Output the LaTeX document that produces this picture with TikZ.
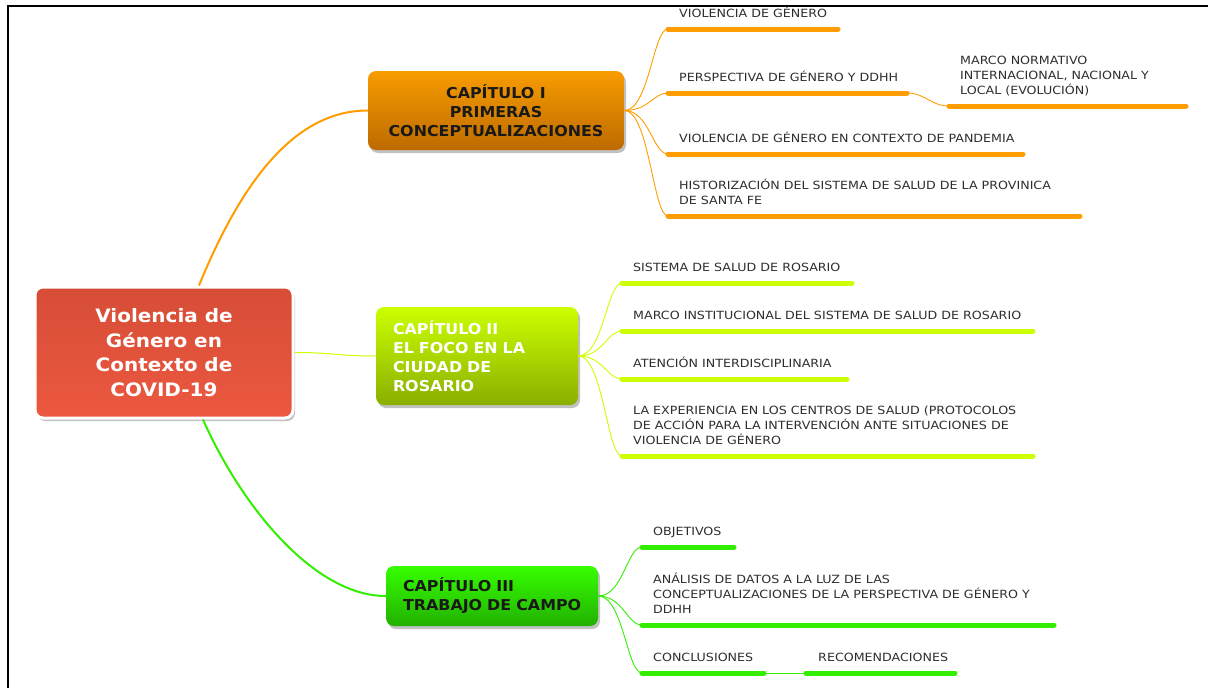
\documentclass[tikz,border=0pt]{standalone}
\usepackage{fontspec}
\setmainfont{DejaVu Sans}
\usetikzlibrary{shadows}
\definecolor{orangeL}{HTML}{FF9C00}
\definecolor{limeL}{HTML}{CCFF00}
\definecolor{greenL}{HTML}{33EE00}
\definecolor{leaftext}{HTML}{2E2E2E}
\definecolor{rootA}{HTML}{D64D36}
\definecolor{rootB}{HTML}{EC5840}
\definecolor{c1A}{HTML}{F89C00}
\definecolor{c1B}{HTML}{BC6A00}
\definecolor{c2A}{HTML}{CCFF00}
\definecolor{c2B}{HTML}{8AAF00}
\definecolor{c3A}{HTML}{36FF00}
\definecolor{c3B}{HTML}{22B000}
\tikzset{
  mshadow/.style={drop shadow={shadow xshift=2pt,shadow yshift=-3pt,opacity=0.35,fill=black!70}},
  chap/.style={rounded corners=8pt, inner sep=0pt, mshadow,
    font=\bfseries\fontsize{15}{19}\selectfont\addfontfeature{FakeStretch=1.06}},
  leaf/.style={anchor=south west, inner sep=0pt, text depth=0pt, align=left,
    font=\fontsize{11.3}{15}\selectfont\addfontfeature{FakeStretch=1.12}, text=leaftext},
  uline/.style={line width=5pt, line cap=round},
  branch/.style={line width=0.9pt},
  mainbranch/.style={line width=2pt},
}
\begin{document}
\begin{tikzpicture}[x=1pt,y=-1pt]
\useasboundingbox (0,0) rectangle (1208,688);
% frame
\draw[line width=2pt] (8,688) -- (8,6) -- (1208,6);

% root
\node[rounded corners=8pt, draw=white, line width=3pt, top color=rootA, bottom color=rootB,
  mshadow, minimum width=258pt, minimum height=131pt, inner sep=0pt, align=center,
  text=white, font=\bfseries\fontsize{18.5}{24.5}\selectfont\addfontfeature{FakeStretch=1.08}] (root) at (164,352.5)
  {Violencia de\\Género en\\Contexto de\\COVID-19};

% chapters
\node[chap, top color=c1A, bottom color=c1B, minimum width=256pt, minimum height=79pt,
  align=center, text=black!90] (c1) at (496,110.5)
  {CAPÍTULO I\\PRIMERAS\\CONCEPTUALIZACIONES};
\node[chap, top color=c2A, bottom color=c2B, minimum width=202pt, minimum height=98pt,
  text width=168pt, align=left, text=white] (c2) at (477,356)
  {CAPÍTULO~II\\EL~FOCO~EN~LA\\CIUDAD~DE\\ROSARIO};
\node[chap, top color=c3A, bottom color=c3B, minimum width=212pt, minimum height=60pt,
  text width=178pt, align=left, text=black!90] (c3) at (492,596)
  {CAPÍTULO~III\\TRABAJO~DE~CAMPO};

% main branches
\draw[mainbranch, orangeL] ([xshift=35pt]root.north) .. controls +(45,-110) and +(-70,0) .. (c1.west);
\draw[line width=1pt, limeL] (root.east) .. controls +(40,0) and +(-40,0) .. (c2.west);
\draw[mainbranch, greenL] ([xshift=39pt]root.south) .. controls +(40,90) and +(-70,0) .. (c3.west);

% ---- Chapter I leaves
\coordinate (a1s) at (668,29);  \coordinate (a1e) at (838,29);
\coordinate (a2s) at (668,93);  \coordinate (a2e) at (907,93);
\coordinate (a3s) at (668,154); \coordinate (a3e) at (1023,154);
\coordinate (a4s) at (668,216); \coordinate (a4e) at (1080,216);
\coordinate (a5s) at (949,106); \coordinate (a5e) at (1186,106);
\foreach \i in {1,...,4}{
  \draw[branch, orangeL] (c1.east) .. controls +(25,0) and +(-15,0) .. (a\i s);
}
\draw[branch, orangeL] (a2e) .. controls +(18,0) and +(-18,0) .. (a5s);
\foreach \i in {1,...,5}{ \draw[uline, orangeL] (a\i s) -- (a\i e); }
\node[leaf] (ta1) at ([shift={(11pt,11pt)}]a1s) {VIOLENCIA DE GÉNERO};
\node[leaf] (ta2) at ([shift={(11pt,11pt)}]a2s) {PERSPECTIVA DE GÉNERO Y DDHH};
\node[leaf] (ta3) at ([shift={(11pt,11pt)}]a3s) {VIOLENCIA DE GÉNERO EN CONTEXTO DE PANDEMIA};
\node[leaf] (ta4) at ([shift={(11pt,11pt)}]a4s) {HISTORIZACIÓN DEL SISTEMA DE SALUD DE LA PROVINICA\\DE SANTA FE};
\node[leaf] (ta5) at ([shift={(11pt,11pt)}]a5s) {MARCO NORMATIVO\\INTERNACIONAL, NACIONAL Y\\LOCAL (EVOLUCIÓN)};

% ---- Chapter II leaves
\coordinate (b1s) at (622,283); \coordinate (b1e) at (852,283);
\coordinate (b2s) at (622,331); \coordinate (b2e) at (1033,331);
\coordinate (b3s) at (622,379); \coordinate (b3e) at (847,379);
\coordinate (b4s) at (622,456); \coordinate (b4e) at (1033,456);
\foreach \i in {1,...,4}{
  \draw[branch, limeL] (c2.east) .. controls +(25,0) and +(-15,0) .. (b\i s);
  \draw[uline, limeL] (b\i s) -- (b\i e);
}
\node[leaf] (tb1) at ([shift={(11pt,11pt)}]b1s) {SISTEMA DE SALUD DE ROSARIO};
\node[leaf] (tb2) at ([shift={(11pt,11pt)}]b2s) {MARCO INSTITUCIONAL DEL SISTEMA DE SALUD DE ROSARIO};
\node[leaf] (tb3) at ([shift={(11pt,11pt)}]b3s) {ATENCIÓN INTERDISCIPLINARIA};
\node[leaf] (tb4) at ([shift={(11pt,11pt)}]b4s) {LA EXPERIENCIA EN LOS CENTROS DE SALUD (PROTOCOLOS\\DE ACCIÓN PARA LA INTERVENCIÓN ANTE SITUACIONES DE\\VIOLENCIA DE GÉNERO};

% ---- Chapter III leaves
\coordinate (d1s) at (642,547); \coordinate (d1e) at (734,547);
\coordinate (d2s) at (642,625); \coordinate (d2e) at (1054,625);
\coordinate (d3s) at (642,673); \coordinate (d3e) at (764,673);
\coordinate (d4s) at (806,673); \coordinate (d4e) at (955,673);
\foreach \i in {1,...,3}{
  \draw[branch, greenL] (c3.east) .. controls +(25,0) and +(-15,0) .. (d\i s);
}
\draw[branch, greenL] (d3e) -- (d4s);
\foreach \i in {1,...,4}{ \draw[uline, greenL] (d\i s) -- (d\i e); }
\node[leaf] (td1) at ([shift={(11pt,11pt)}]d1s) {OBJETIVOS};
\node[leaf] (td2) at ([shift={(11pt,11pt)}]d2s) {ANÁLISIS DE DATOS A LA LUZ DE LAS\\CONCEPTUALIZACIONES DE LA PERSPECTIVA DE GÉNERO Y\\DDHH};
\node[leaf] (td3) at ([shift={(11pt,11pt)}]d3s) {CONCLUSIONES};
\node[leaf] (td4) at ([shift={(12pt,11pt)}]d4s) {RECOMENDACIONES};
\end{tikzpicture}
\end{document}
